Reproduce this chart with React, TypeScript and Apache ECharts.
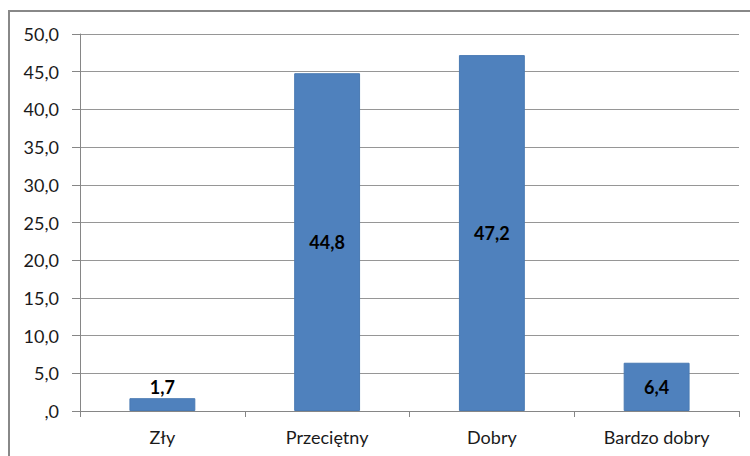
import React, { useEffect, useRef } from "react";
import * as echarts from "echarts";

const categories = ["Zły", "Przeciętny", "Dobry", "Bardzo dobry"];
const values = [1.7, 44.8, 47.2, 6.4];
const labelPositions = ["top", "inside", "inside", "inside"];

const fmt = (v: number) => (v === 0 ? ",0" : v.toFixed(1).replace(".", ","));
const FONT = "Lato";

export default function App() {
  const ref = useRef<HTMLDivElement>(null);
  useEffect(() => {
    const chart = echarts.init(ref.current!, null, { renderer: "svg" });
    chart.setOption({
      animation: false,
      backgroundColor: "#ffffff",
      textStyle: { fontFamily: FONT },
      graphic: [
        {
          type: "rect",
          shape: { x: 9, y: 11, width: 800, height: 500 },
          style: { fill: "none", stroke: "#888888", lineWidth: 2 },
          silent: true,
        },
      ],
      grid: { left: 80, right: 11, top: 34, bottom: 45 },
      xAxis: {
        type: "category",
        data: categories,
        axisLine: { lineStyle: { color: "#868686", width: 1 } },
        axisTick: { show: true, alignWithLabel: false, length: 6, lineStyle: { color: "#868686" } },
        axisLabel: { color: "#1a1a1a", fontSize: 18, margin: 17, fontFamily: FONT },
      },
      yAxis: {
        type: "value",
        min: 0,
        max: 50,
        interval: 5,
        axisLine: { show: true, lineStyle: { color: "#868686", width: 1 } },
        axisTick: { show: true, length: 8, lineStyle: { color: "#868686" } },
        splitLine: { lineStyle: { color: "#969696", width: 1 } },
        axisLabel: { color: "#1a1a1a", fontSize: 18, margin: 21, formatter: fmt, fontFamily: FONT },
      },
      series: [
        {
          type: "bar",
          barWidth: "40%",
          data: values.map((v, i) => ({
            value: v,
            label: { position: labelPositions[i] },
          })),
          itemStyle: { color: "#4F81BD", borderColor: "#4A7AB3", borderWidth: 1 },
          label: {
            show: true,
            color: "#000",
            fontWeight: "bold",
            fontSize: 18,
            fontFamily: FONT,
            distance: 2,
            formatter: (p: any) => fmt(p.value),
          },
        },
      ],
    });
    return () => chart.dispose();
  }, []);
  return (
    <div
      ref={ref}
      style={{ position: "fixed", left: 0, top: 0, width: 750, height: 456 }}
    />
  );
}
